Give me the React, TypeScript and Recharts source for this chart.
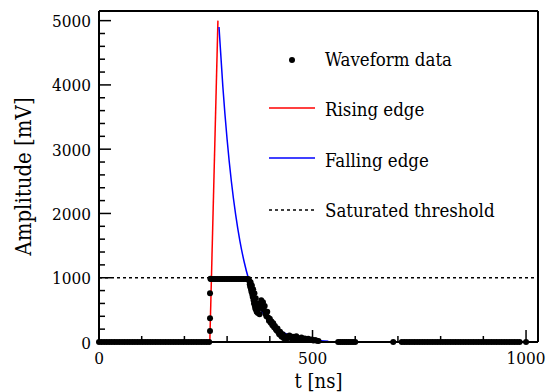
import React from 'react';
import { ComposedChart, XAxis, YAxis, Scatter, Line, ReferenceLine, Legend } from 'recharts';

// ---- data (t in ns, v in mV) ----
const baselineLeftT = [0, 6, 12, 18, 24, 30, 36, 42, 48, 54, 60, 66, 72, 78, 84, 90, 96, 102, 108, 114, 120, 126, 132, 138, 144, 150, 156, 162, 168, 174, 180, 186, 192, 198, 204, 210, 216, 222, 228, 234, 240, 246, 252, 258];
const risingT = [260, 260, 260, 261];
const risingV = [170, 369, 758, 985];
const plateauT = [262, 266, 270, 274, 278, 282, 286, 290, 294, 298, 302, 306, 310, 314, 318, 322, 326, 330, 334, 338, 342, 346, 350];
const plateauV = 980;
const fallT = [352, 353, 354, 355, 356, 357, 358, 359, 360, 361, 362, 363, 364, 365, 366, 367, 368, 369, 370, 372, 374, 376, 378, 380, 382, 384, 386, 388, 390, 392, 394, 396, 398, 400, 402, 404, 406, 408, 410, 412, 414, 416, 418, 420, 422, 424, 426, 428, 430, 433, 436, 439, 442, 446, 450, 454, 458, 462, 466, 470, 474, 478, 482, 486, 490, 494, 498, 502, 506, 510, 514];
const fallV = [950, 900, 860, 930, 820, 780, 880, 740, 700, 820, 650, 600, 760, 560, 520, 680, 500, 470, 600, 450, 520, 430, 600, 650, 560, 620, 500, 560, 440, 400, 470, 380, 330, 360, 300, 320, 260, 290, 230, 250, 200, 180, 210, 150, 120, 160, 100, 80, 120, 60, 90, 50, 70, 100, 60, 80, 50, 90, 60, 45, 70, 40, 55, 35, 50, 30, 40, 25, 30, 20, 15];
const tailT = [560, 565, 570, 575, 580, 585, 590, 595, 600, 689, 709, 715, 721, 727, 733, 739, 745, 751, 757, 763, 769, 775, 781, 787, 793, 799, 805, 811, 817, 823, 829, 835, 841, 847, 853, 859, 865, 871, 877, 883, 889, 895, 901, 907, 913, 919, 925, 931, 937, 943, 949, 955, 961, 967, 973, 979, 985, 1000];

const risingEdgeT = [259.5, 278.5];
const risingEdgeV = [0, 5000];
const fallingEdgeT = [281, 290, 300, 310, 320, 330, 340, 350, 360, 375, 390, 405, 420, 440, 460, 480, 500, 520, 537];
const fallingEdgeV = [4900, 3975, 3150, 2497, 1981, 1570, 1245, 987, 782, 551, 388, 273, 193, 121, 76, 48, 30, 19, 13];

const threshold = 1000;
const xTicks = [0, 100, 200, 300, 400, 500, 600, 700, 800, 900, 1000];
const yTicks = [0, 200, 400, 600, 800, 1000, 1200, 1400, 1600, 1800, 2000, 2200, 2400, 2600, 2800, 3000, 3200, 3400, 3600, 3800, 4000, 4200, 4400, 4600, 4800, 5000];
const legendLabels = ['Waveform data', 'Rising edge', 'Falling edge', 'Saturated threshold'];

// ---- build tables ----
const waveform = [
  ...baselineLeftT.map((t) => ({ t, v: 0 })),
  ...risingT.map((t, i) => ({ t, v: risingV[i] })),
  ...plateauT.map((t) => ({ t, v: plateauV })),
  ...fallT.map((t, i) => ({ t, v: fallV[i] })),
  ...tailT.map((t) => ({ t, v: 0 })),
];
const rising = risingEdgeT.map((t, i) => ({ t, v: risingEdgeV[i] }));
const falling = fallingEdgeT.map((t, i) => ({ t, v: fallingEdgeV[i] }));

const FONT = '"DejaVu Serif Condensed", "DejaVu Serif", serif';

const BottomTick = (p: any) => {
  const major = p.payload.value % 500 === 0;
  return (
    <g>
      <line x1={p.x} y1={p.y} x2={p.x} y2={p.y - (major ? 12 : 6)} stroke="#000" strokeWidth={1.5} />
      {major && (
        <text x={p.x} y={p.y + 22} textAnchor="middle" style={{ fontSize: 17, fontFamily: FONT }} fill="#000">
          {p.payload.value}
        </text>
      )}
    </g>
  );
};
const TopTick = (p: any) => {
  const major = p.payload.value % 500 === 0;
  return <line x1={p.x} y1={p.y} x2={p.x} y2={p.y + (major ? 12 : 6)} stroke="#000" strokeWidth={1.5} />;
};
const LeftTick = (p: any) => {
  const major = p.payload.value % 1000 === 0;
  return (
    <g>
      <line x1={p.x} y1={p.y} x2={p.x + (major ? 12 : 6)} y2={p.y} stroke="#000" strokeWidth={1.5} />
      {major && (
        <text x={p.x - 8} y={p.y + 6.5} textAnchor="end" style={{ fontSize: 17, fontFamily: FONT }} fill="#000">
          {p.payload.value}
        </text>
      )}
    </g>
  );
};
const RightTick = (p: any) => {
  const major = p.payload.value % 1000 === 0;
  return <line x1={p.x} y1={p.y} x2={p.x - (major ? 12 : 6)} y2={p.y} stroke="#000" strokeWidth={1.5} />;
};

const Dot = (p: any) => <circle cx={p.cx} cy={p.cy} r={3} fill="#000" />;

const LegendBox = () => (
  <svg width={240} height={190} style={{ overflow: 'visible' }}>
    <circle cx={32} cy={20} r={3} fill="#000" />
    <line x1={9} y1={68} x2={55} y2={68} stroke="#ff0000" strokeWidth={1.5} />
    <line x1={9} y1={118} x2={55} y2={118} stroke="#0000ff" strokeWidth={1.5} />
    <line x1={9} y1={170} x2={55} y2={170} stroke="#000" strokeWidth={1.5} strokeDasharray="3 3" />
    {legendLabels.map((s, i) => (
      <text key={s} x={65} y={26 + i * 50.3} style={{ fontSize: 18.5, fontFamily: FONT }} fill="#000">
        {s}
      </text>
    ))}
  </svg>
);

const XLabel = (p: any) => {
  const vb = p.viewBox || { x: 99, y: 342, width: 439, height: 50 };
  return (
    <text x={vb.x + vb.width / 2} y={vb.y + vb.height - 4} textAnchor="middle" style={{ fontSize: 20, fontFamily: FONT }} fill="#000">
      t [ns]
    </text>
  );
};
const YLabel = (p: any) => {
  const vb = p.viewBox || { x: 0, y: 11, width: 99, height: 331 };
  const cx = 31;
  const cy = vb.y + vb.height / 2;
  return (
    <text x={cx} y={cy} transform={`rotate(-90 ${cx} ${cy})`} textAnchor="middle" style={{ fontSize: 22, fontFamily: FONT }} fill="#000">
      Amplitude [mV]
    </text>
  );
};

export default function App() {
  return (
    <div style={{ position: 'absolute', left: 0, top: 0, background: '#fff' }}>
      <ComposedChart width={549} height={392} margin={{ top: 0, right: 0, bottom: 0, left: 0 }}>
        <XAxis
          dataKey="t"
          type="number"
          domain={[0, 1028]}
          ticks={xTicks}
          interval={0}
          height={50}
          tickSize={0}
          tickMargin={0}
          tick={<BottomTick />}
          axisLine={{ stroke: '#000', strokeWidth: 2 }}
          label={<XLabel />}
        />
        <XAxis
          xAxisId="top"
          orientation="top"
          dataKey="t"
          type="number"
          domain={[0, 1028]}
          ticks={xTicks}
          interval={0}
          height={11}
          tickSize={0}
          tickMargin={0}
          tick={<TopTick />}
          axisLine={{ stroke: '#000', strokeWidth: 2 }}
        />
        <YAxis
          type="number"
          domain={[0, 5150]}
          ticks={yTicks}
          interval={0}
          width={99}
          tickSize={0}
          tickMargin={0}
          tick={<LeftTick />}
          axisLine={{ stroke: '#000', strokeWidth: 2 }}
          label={<YLabel />}
        />
        <YAxis
          yAxisId="right"
          orientation="right"
          type="number"
          domain={[0, 5150]}
          ticks={yTicks}
          interval={0}
          width={11}
          tickSize={0}
          tickMargin={0}
          tick={<RightTick />}
          axisLine={{ stroke: '#000', strokeWidth: 2 }}
        />
        <ReferenceLine y={threshold} stroke="#000" strokeWidth={1.5} strokeDasharray="3 3" />
        <Scatter data={waveform} dataKey="v" shape={<Dot />} isAnimationActive={false} />
        <Line data={rising} dataKey="v" type="linear" stroke="#ff0000" strokeWidth={1.5} dot={false} activeDot={false} isAnimationActive={false} />
        <Line data={falling} dataKey="v" type="monotone" stroke="#0000ff" strokeWidth={1.5} dot={false} activeDot={false} isAnimationActive={false} />
        <Legend
          layout="horizontal"
          verticalAlign="middle"
          align="center"
          content={<LegendBox />}
          wrapperStyle={{ left: 260, top: 40, width: 240, height: 190 }}
        />
      </ComposedChart>
    </div>
  );
}
